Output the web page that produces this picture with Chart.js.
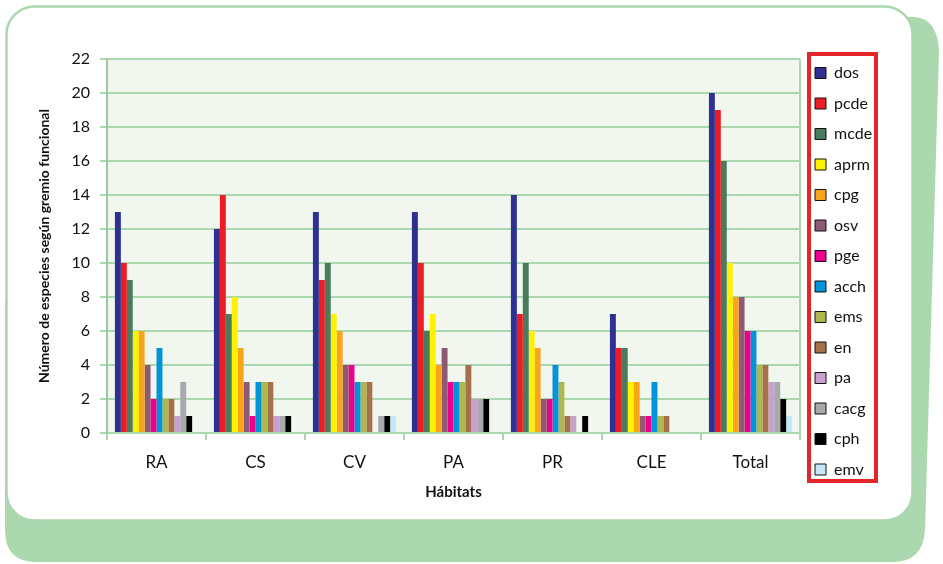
<!DOCTYPE html>
<html>
<head>
<meta charset="utf-8">
<script src="https://cdn.jsdelivr.net/npm/chart.js@4/dist/chart.umd.min.js"></script>
<style>
  html, body { margin: 0; padding: 0; background: #ffffff; }
  canvas { display: block; }
</style>
</head>
<body>
<canvas id="chart" width="943" height="564"></canvas>
<script>
// Habitats (categories)
const habitats = ['RA', 'CS', 'CV', 'PA', 'PR', 'CLE', 'Total'];

// Number of species per functional guild in each habitat
const dos  = [13, 12, 13, 13, 14, 7, 20];
const pcde = [10, 14, 9, 10, 7, 5, 19];
const mcde = [9, 7, 10, 6, 10, 5, 16];
const aprm = [6, 8, 7, 7, 6, 3, 10];
const cpg  = [6, 5, 6, 4, 5, 3, 8];
const osv  = [4, 3, 4, 5, 2, 1, 8];
const pge  = [2, 1, 4, 3, 2, 1, 6];
const acch = [5, 3, 3, 3, 4, 3, 6];
const ems  = [2, 3, 3, 3, 3, 1, 4];
const en   = [2, 3, 3, 4, 1, 1, 4];
const pa   = [1, 1, 0, 2, 1, 0, 3];
const cacg = [3, 1, 1, 2, 0, 0, 3];
const cph  = [1, 1, 1, 2, 1, 0, 2];
const emv  = [0, 0, 1, 0, 0, 0, 1];

const guildNames = ['dos', 'pcde', 'mcde', 'aprm', 'cpg', 'osv', 'pge', 'acch', 'ems', 'en', 'pa', 'cacg', 'cph', 'emv'];
const guildValues = [dos, pcde, mcde, aprm, cpg, osv, pge, acch, ems, en, pa, cacg, cph, emv];
const guildColors = ['#2e3192', '#ed1c24', '#4a7b5d', '#fff200', '#f9a51b', '#8e5a73', '#ec008c',
                     '#0095da', '#afb84e', '#a5714b', '#c8a1cf', '#a7a9ac', '#000000', '#c6e8f8'];

const yTicks = [0, 2, 4, 6, 8, 10, 12, 14, 16, 18, 20, 22];

const GREEN = '#acd8b0';
const PLOT_RIGHT = 800;

// Rounded white card with a green backing sheet
const cardPlugin = {
  id: 'card',
  beforeDraw(chart) {
    const ctx = chart.ctx;
    ctx.save();
    ctx.fillStyle = GREEN;
    ctx.beginPath();
    ctx.moveTo(880, 17);
    ctx.lineTo(914, 17);
    ctx.quadraticCurveTo(938, 18, 939, 52);
    ctx.lineTo(925, 530);
    ctx.quadraticCurveTo(923, 562, 893, 562);
    ctx.lineTo(36, 562);
    ctx.quadraticCurveTo(5, 562, 5, 530);
    ctx.lineTo(5, 300);
    ctx.lineTo(880, 300);
    ctx.closePath();
    ctx.fill();

    ctx.fillStyle = '#ffffff';
    ctx.strokeStyle = GREEN;
    ctx.lineWidth = 2.5;
    ctx.beginPath();
    ctx.roundRect(6.5, 6.5, 906, 514, 28);
    ctx.fill();
    ctx.stroke();

    // plot background
    const a = chart.chartArea;
    ctx.fillStyle = '#f1f6ef';
    ctx.fillRect(a.left, a.top, a.right - a.left, a.bottom - a.top);
    ctx.restore();

    // legend placement
    const lg = chart.legend;
    if (lg) {
      const h = lg.height;
      lg.left = 800.5;
      lg.top = 50.5;
      lg.right = lg.left + lg.width;
      lg.bottom = lg.top + Math.max(h, 505);
    }
  },
  beforeDatasetsDraw(chart) {
    const a = chart.chartArea;
    const ctx = chart.ctx;
    ctx.save();
    ctx.strokeStyle = GREEN;
    ctx.lineWidth = 2;
    ctx.beginPath();
    ctx.moveTo(a.right, a.top);
    ctx.lineTo(a.right, a.bottom);
    ctx.stroke();
    ctx.restore();
  },
  afterDraw(chart) {
    const ctx = chart.ctx;
    ctx.save();
    ctx.strokeStyle = '#e3262a';
    ctx.lineWidth = 4;
    ctx.strokeRect(809, 54, 67, 427);
    ctx.restore();
  }
};

const chart = new Chart(document.getElementById('chart'), {
  type: 'bar',
  data: {
    labels: habitats,
    datasets: guildNames.map((name, i) => ({
      label: name,
      data: guildValues[i],
      backgroundColor: guildColors[i],
      borderWidth: 0,
      categoryPercentage: 0.84,
      barPercentage: 1.0
    }))
  },
  options: {
    responsive: false,
    animation: false,
    devicePixelRatio: 1,
    layout: { padding: { left: 0, top: 59, right: 60, bottom: 0 } },
    plugins: {
      tooltip: { enabled: false },
      legend: {
        position: 'right',
        align: 'start',
        labels: {
          boxWidth: 11,
          boxHeight: 11,
          padding: 14.5,
          color: '#111',
          font: { family: 'Lato', size: 16 },
          generateLabels(c) {
            const items = Chart.defaults.plugins.legend.labels.generateLabels(c);
            items.forEach(it => { it.strokeStyle = '#111'; it.lineWidth = 1; });
            return items;
          }
        }
      }
    },
    scales: {
      x: {
        grid: {
          display: true,
          drawOnChartArea: false,
          drawTicks: true,
          tickLength: 7,
          color: GREEN,
          lineWidth: 2,
          offset: true
        },
        border: { display: true, color: GREEN, width: 2 },
        ticks: { color: '#111', padding: 12, font: { family: 'Lato', size: 17 } },
        title: {
          display: true,
          text: 'Hábitats',
          color: '#111',
          font: { family: 'Lato', size: 15, weight: 'bold', lineHeight: 1.2 },
          padding: { top: 0, bottom: 63 }
        },
        afterFit(scale) { scale.height = 131; }
      },
      y: {
        min: 0,
        max: 22,
        afterBuildTicks(scale) { scale.ticks = yTicks.map(v => ({ value: v })); },
        grid: { color: GREEN, lineWidth: 2, tickLength: 7 },
        border: { display: true, color: '#9fc9a3', width: 2 },
        ticks: { color: '#111', padding: 10, font: { family: 'Lato', size: 16 } },
        title: {
          display: true,
          text: 'Número de especies según gremio funcional',
          color: '#111',
          font: { family: 'Lato', size: 14, weight: 'bold', lineHeight: 1.2 },
          padding: { top: 36, bottom: 0 }
        },
        afterFit(scale) { scale.width = 107; }
      }
    }
  },
  plugins: [cardPlugin]
});

// keep the plot's right edge fixed next to the legend
const dx = chart.chartArea.right - PLOT_RIGHT;
if (Math.abs(dx) > 0.5) {
  chart.options.layout.padding.right += dx;
  chart.update();
}
</script>
</body>
</html>
